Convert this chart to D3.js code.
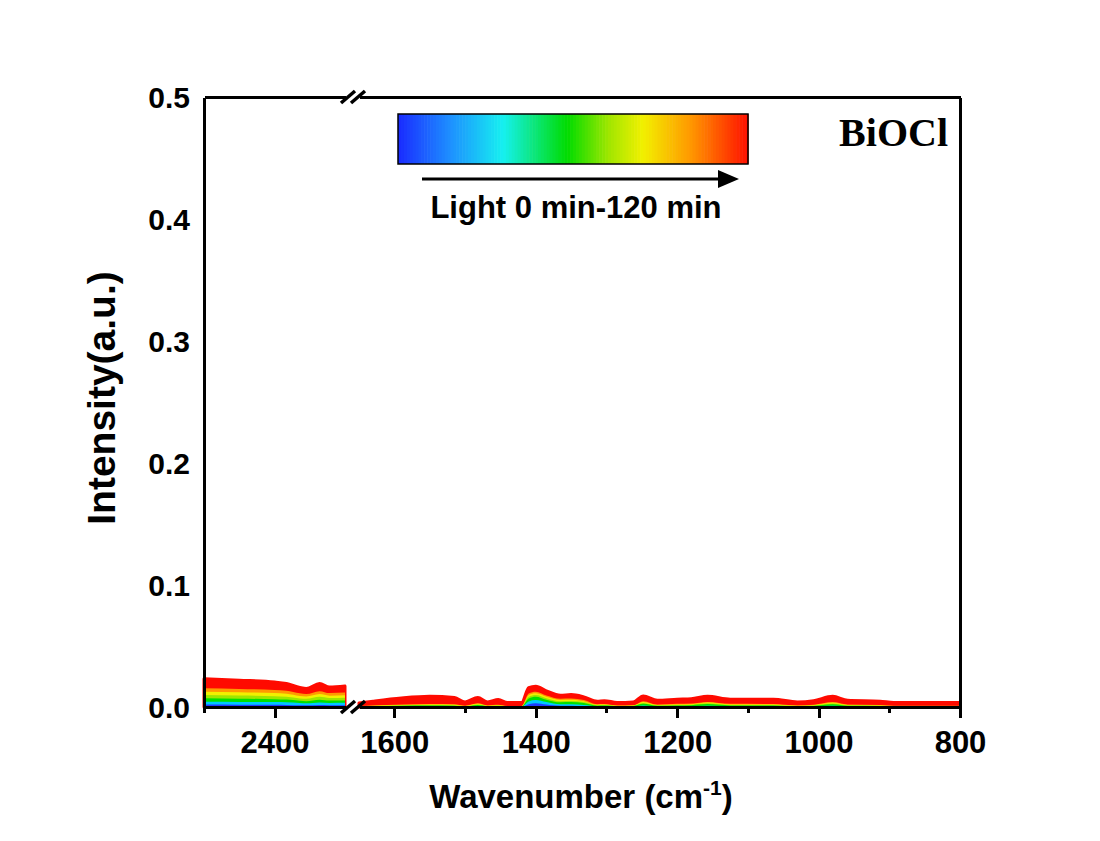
<!DOCTYPE html>
<html lang="en">
<head>
    <meta charset="UTF-8">
    <title>BiOCl in-situ spectra</title>
    <script src="https://d3js.org/d3.v7.min.js"></script>
    <style>
        body { margin: 0; background: #fff; }
        .axis path, .axis line { stroke: #000; stroke-width: 3; shape-rendering: crispEdges; }
        .axis text { font-family: "Liberation Sans", Arial, sans-serif; font-weight: bold; font-size: 30px; fill: #000; }
        .xax text { font-size: 31px; }
        .title { font-family: "Liberation Sans", Arial, sans-serif; font-weight: bold; fill: #000; }
    </style>
</head>
<body>
    <svg width="1100" height="841"></svg>
    <script>
        // wavenumber grid, left (high) segment and right segment of the broken axis
        const wnLeft = [2500, 2450, 2400, 2383, 2364, 2355, 2336, 2322, 2300];
        const wnRight = [1650, 1630, 1590, 1550, 1515, 1500, 1482, 1468, 1453, 1440, 1420, 1410, 1400, 1385,
            1365, 1350, 1332, 1313, 1303, 1285, 1262, 1248, 1228, 1200, 1180, 1157, 1125, 1064, 1030, 1007,
            980, 959, 913, 894, 800];

        // light time (min) and colours of each spectrum
        const times = [0, 20, 40, 60, 80, 100, 120];
        const colors = ["#1f3cff", "#00c8ff", "#00e000", "#9ee600", "#f2f000", "#ff9900", "#ff0a00"];

        // intensities, one row per time
        const leftIntensity = [
            [.0020, .0019, .0018, .0017, .0014, .0014, .0017, .0015, .0015],
            [.0044, .0042, .0040, .0038, .0032, .0030, .0037, .0033, .0034],
            [.0071, .0068, .0064, .0061, .0051, .0048, .0060, .0053, .0054],
            [.0098, .0094, .0089, .0084, .0070, .0067, .0083, .0073, .0075],
            [.0126, .0121, .0114, .0108, .0090, .0086, .0106, .0093, .0096],
            [.0153, .0148, .0140, .0133, .0112, .0106, .0130, .0114, .0118],
            [.0232, .0220, .0205, .0192, .0160, .0152, .0192, .0164, .0172]
        ];
        const rightIntensity = [
            [.0001,.0001,.0002,.0002,.0002,.0001,.0003,.0001,.0002,.0001,.0001,.0022,.0030,.0020,.0010,.0010,.0007,.0002,.0002,.0001,.0001,.0004,.0002,.0002,.0003,.0004,.0002,.0002,.0001,.0001,.0003,.0002,.0001,.0001,.0001],
            [.0002,.0003,.0005,.0006,.0006,.0003,.0008,.0003,.0005,.0002,.0002,.0045,.0057,.0040,.0022,.0022,.0016,.0005,.0006,.0003,.0004,.0012,.0005,.0006,.0007,.0011,.0006,.0006,.0003,.0004,.0010,.0005,.0004,.0003,.0003],
            [.0004,.0006,.0010,.0012,.0011,.0005,.0016,.0006,.0009,.0004,.0004,.0070,.0085,.0060,.0038,.0040,.0032,.0011,.0012,.0006,.0008,.0026,.0010,.0013,.0015,.0024,.0013,.0012,.0006,.0009,.0022,.0010,.0008,.0005,.0005],
            [.0005,.0008,.0013,.0016,.0014,.0006,.0021,.0008,.0012,.0005,.0005,.0084,.0098,.0072,.0048,.0050,.0040,.0014,.0016,.0008,.0010,.0033,.0013,.0017,.0019,.0030,.0017,.0016,.0008,.0012,.0028,.0013,.0010,.0006,.0006],
            [.0006,.0010,.0016,.0020,.0018,.0008,.0026,.0010,.0015,.0006,.0006,.0096,.0112,.0084,.0058,.0060,.0048,.0018,.0020,.0010,.0012,.0040,.0016,.0021,.0023,.0036,.0021,.0020,.0010,.0015,.0034,.0016,.0013,.0008,.0008],
            [.0008,.0012,.0020,.0024,.0022,.0010,.0030,.0012,.0018,.0008,.0008,.0110,.0126,.0095,.0068,.0070,.0058,.0022,.0024,.0012,.0014,.0048,.0020,.0026,.0028,.0042,.0026,.0024,.0012,.0018,.0040,.0020,.0016,.0010,.0010],
            [.0033,.0048,.0074,.0088,.0078,.0042,.0078,.0042,.0061,.0037,.0037,.0158,.0170,.0132,.0096,.0102,.0083,.0047,.0052,.0037,.0042,.0091,.0055,.0064,.0068,.0088,.0064,.0064,.0042,.0052,.0088,.0055,.0048,.0037,.0037]
        ];

        const yTicks = [0, 0.1, 0.2, 0.3, 0.4, 0.5];
        const leftMajor = [2400], leftMinor = [2500];
        const rightMajor = [1600, 1400, 1200, 1000, 800], rightMinor = [1500, 1300, 1100, 900];

        const margin = { top: 97, left: 204 };
        const width = 756, height = 610;
        const gapStart = 141, gapEnd = 155;

        const svg = d3.select("svg").append("g")
            .attr("transform", "translate(" + margin.left + "," + margin.top + ")");

        const xL = d3.scaleLinear().domain([2500, 2300]).range([0, gapStart]);
        const xR = d3.scaleLinear().domain([1650, 800]).range([gapEnd, width]);
        const y = d3.scaleLinear().domain([0, 0.5]).range([height, 0]);

        // spectra, largest (latest) first so the earlier ones show underneath
        function drawSeg(xs, wn, rows) {
            const area = d3.area()
                .x((d, i) => xs(wn[i]))
                .y0(y(0))
                .y1(d => y(d))
                .curve(d3.curveMonotoneX);
            for (let k = rows.length - 1; k >= 0; k--) {
                svg.append("path")
                    .datum(rows[k])
                    .attr("fill", colors[k])
                    .attr("stroke", k === rows.length - 1 ? colors[k] : "none")
                    .attr("stroke-width", 3)
                    .attr("stroke-linejoin", "round")
                    .attr("d", area);
            }
        }
        drawSeg(xL, wnLeft, leftIntensity);
        drawSeg(xR, wnRight, rightIntensity);

        // bottom axes (broken)
        function bottomAxis(xs, major, minor) {
            svg.append("g").attr("class", "axis xax")
                .attr("transform", "translate(0," + height + ")")
                .call(d3.axisBottom(xs).tickValues(minor).tickSize(6).tickSizeOuter(0).tickFormat(""));
            svg.append("g").attr("class", "axis xax")
                .attr("transform", "translate(0," + height + ")")
                .call(d3.axisBottom(xs).tickValues(major).tickSize(11).tickSizeOuter(0).tickPadding(13).tickFormat(d3.format("d")));
        }
        bottomAxis(xL, leftMajor, leftMinor);
        bottomAxis(xR, rightMajor, rightMinor);

        // top frame (broken)
        svg.append("g").attr("class", "axis")
            .call(d3.axisTop(xL).tickValues([]).tickSizeOuter(0));
        svg.append("g").attr("class", "axis")
            .call(d3.axisTop(xR).tickValues([]).tickSizeOuter(0));

        // right frame
        svg.append("g").attr("class", "axis")
            .attr("transform", "translate(" + width + ",0)")
            .call(d3.axisRight(y).tickValues([]).tickSizeOuter(0));

        // left axis
        const yAxis = svg.append("g").attr("class", "axis")
            .call(d3.axisLeft(y).tickValues(yTicks).tickSize(0).tickSizeOuter(0).tickPadding(14).tickFormat(d3.format(".1f")));
        yAxis.selectAll(".tick text").attr("dy", "0.36em");

        // break marks
        [0, height].forEach(yy => {
            [-4, 6].forEach(dx => {
                svg.append("line")
                    .attr("x1", (gapStart + gapEnd) / 2 + dx - 7).attr("y1", yy + 6)
                    .attr("x2", (gapStart + gapEnd) / 2 + dx + 7).attr("y2", yy - 6)
                    .attr("stroke", "#000").attr("stroke-width", 3.5);
            });
        });

        // axis titles
        svg.append("text").attr("class", "title")
            .attr("x", width / 2 - 1).attr("y", height + 101)
            .attr("text-anchor", "middle").style("font-size", "33px")
            .text("Wavenumber (cm")
            .append("tspan").attr("dy", -13).style("font-size", "21px").text("-1")
            .clone(true).attr("dy", 13).style("font-size", "33px").text(")");

        svg.append("text").attr("class", "title")
            .attr("transform", "rotate(-90)")
            .attr("x", -(height / 2) + 4).attr("y", -89)
            .attr("text-anchor", "middle").style("font-size", "39px")
            .text("Intensity(a.u.)");

        // sample label
        svg.append("text")
            .attr("x", 744).attr("y", 49)
            .attr("text-anchor", "end")
            .style("font-family", "'Liberation Serif', 'Times New Roman', serif")
            .style("font-weight", "bold").style("font-size", "40px")
            .text("BiOCl");

        // colour bar for light time
        const cbX = d3.scaleLinear().domain([0, 120]).range([194, 544]);
        const cbColor = d3.scaleLinear()
            .domain([0, 18, 36, 58, 72, 84, 100, 120])
            .range(["#1a2bff", "#1e90ff", "#16f0f0", "#00dc00", "#9ee600", "#f2f000", "#ff9a00", "#ff1000"]);
        const steps = d3.range(0, 120, 1);
        const cb = svg.append("g").attr("transform", "translate(0,17)");
        cb.selectAll("rect.s").data(steps).enter().append("rect")
            .attr("class", "s")
            .attr("x", d => cbX(d)).attr("y", 0)
            .attr("width", cbX(1) - cbX(0) + 0.6).attr("height", 50)
            .attr("fill", d => cbColor(d + 0.5));
        cb.append("rect").attr("x", cbX(0)).attr("y", 0)
            .attr("width", cbX(120) - cbX(0)).attr("height", 50)
            .attr("fill", "none").attr("stroke", "#000").attr("stroke-width", 1.5);

        // arrow
        svg.append("line")
            .attr("x1", 218).attr("y1", 82).attr("x2", 516).attr("y2", 82)
            .attr("stroke", "#000").attr("stroke-width", 3);
        svg.append("path")
            .attr("d", "M514,73 L535,82 L514,91 Z")
            .attr("fill", "#000");

        svg.append("text").attr("class", "title")
            .attr("x", 372).attr("y", 121)
            .attr("text-anchor", "middle").style("font-size", "31px")
            .text("Light 0 min-120 min");
    </script>
</body>
</html>
